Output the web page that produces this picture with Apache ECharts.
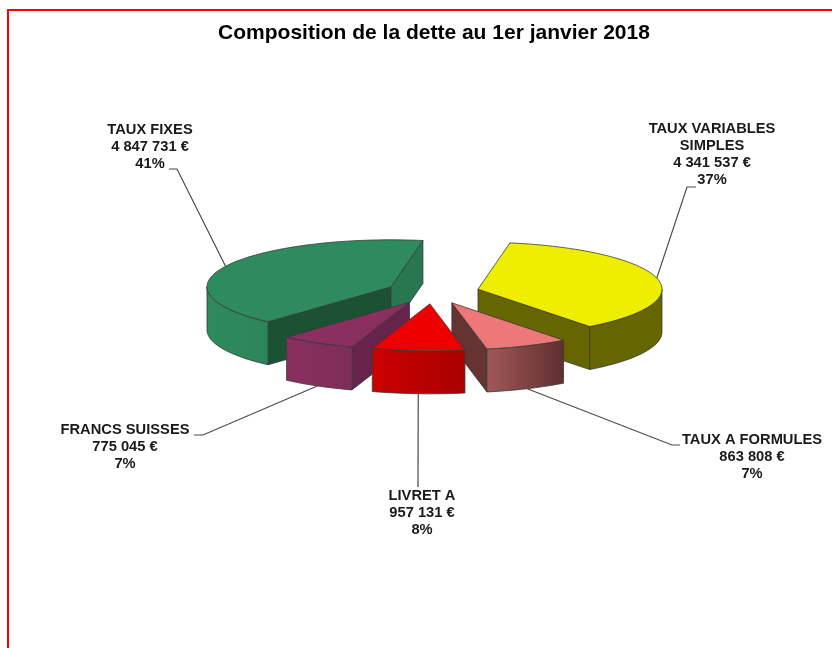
<!DOCTYPE html>
<html lang="fr">
<head>
    <meta charset="UTF-8">
    <title>Composition de la dette</title>
    <style>
        html, body { margin: 0; padding: 0; background: #fff; }
    </style>
</head>
<body>
<div id="main" style="width:832px;height:648px;"></div>

<script src="https://cdn.jsdelivr.net/npm/echarts@6/dist/echarts.min.js"></script>
<script>
    // clockwise from the back edge of the pie
    var categories = ['TAUX VARIABLES\nSIMPLES', 'TAUX A FORMULES', 'LIVRET A', 'FRANCS SUISSES', 'TAUX FIXES'];
    var amounts = [4341537, 863808, 957131, 775045, 4847731];

    // painter's order, back slices first
    var drawOrder = [4, 0, 3, 1, 2];

    // top face, outer wall (left to right), start edge wall, end edge wall
    var topColors = ['#eeee00', '#ee7777', '#ee0000', '#8b2f60', '#2e8b5e'];
    var wallColors = [['#666600', '#666600'], ['#a35757', '#5f2f2f'], ['#cc0000', '#a80000'], ['#8a2f60', '#7e2e58'], ['#2e8b5e', '#2c8559']];
    var startEdgeColors = ['#666600', '#663333', '#cc0000', '#66244d', '#1a5233'];
    var endEdgeColors = ['#666600', '#663333', '#cc0000', '#66244d', '#277850'];

    // leader elbow and end, then label centre x / top y
    var leaderElbows = [[687, 187], [672, 445], [418, 487], [203, 435], [177, 169]];
    var leaderEnds = [[696, 187], [680, 445], [418, 487], [194, 435], [169, 169]];
    var labelAnchors = [[712, 120], [752, 431], [422, 487], [125, 421], [150, 121]];

    var CX = 432.8, CY = 292, RX = 184, RY = 47, DEPTH = 43, EXPLODE = 0.2527;
    var START_ANGLE = 80;
    var EDGE = '#3a3a3a';
    var FONT = '"Liberation Sans", Arial, sans-serif';

    var total = amounts.reduce(function (a, b) { return a + b; }, 0);

    function spaced(n) {
        return String(n).replace(/\B(?=(\d{3})+$)/g, ' ');
    }

    function rim(c, deg) {
        var t = deg * Math.PI / 180;
        return [c[0] + RX * Math.cos(t), c[1] - RY * Math.sin(t)];
    }

    function down(p) {
        return [p[0], p[1] + DEPTH];
    }

    function arcPoints(c, from, to) {
        var pts = [];
        var steps = Math.max(2, Math.ceil(Math.abs(from - to) / 2));
        for (var i = 0; i <= steps; i++) {
            pts.push(rim(c, from + (to - from) * i / steps));
        }
        return pts;
    }

    function face(points, fill) {
        return {
            type: 'polygon',
            shape: { points: points },
            style: { fill: fill, stroke: EDGE, lineWidth: 0.8, lineJoin: 'round' }
        };
    }

    function renderSlice(params, api) {
        var idx = api.value(0);
        var before = 0;
        for (var i = 0; i < idx; i++) before += amounts[i];
        var a0 = START_ANGLE - before / total * 360;
        var a1 = a0 - api.value(1) / total * 360;
        var mid = (a0 + a1) / 2 * Math.PI / 180;

        // apex pushed out along the middle of the slice
        var apex = [
            CX + RX * EXPLODE * Math.cos(mid),
            CY - RY * EXPLODE * Math.sin(mid)
        ];
        var children = [];

        // radial walls that face the viewer
        if (Math.cos(a0 * Math.PI / 180) < 0) {
            var p0 = rim(apex, a0);
            children.push(face([apex, p0, down(p0), down(apex)], startEdgeColors[idx]));
        }
        if (Math.cos(a1 * Math.PI / 180) > 0) {
            var p1 = rim(apex, a1);
            children.push(face([apex, p1, down(p1), down(apex)], endEdgeColors[idx]));
        }

        // outer wall, only the part on the front half of the ellipse
        var w0 = Math.min(a0, 0), w1 = Math.max(a1, -180);
        if (w0 > w1) {
            var upper = arcPoints(apex, w0, w1);
            var lower = upper.map(down).reverse();
            children.push(face(upper.concat(lower), new echarts.graphic.LinearGradient(1, 0, 0, 0, [
                { offset: 0, color: wallColors[idx][1] },
                { offset: 1, color: wallColors[idx][0] }
            ])));
        }

        children.push(face([apex].concat(arcPoints(apex, a0, a1)), topColors[idx]));

        // leader line and label
        var start = rim(apex, (a0 + a1) / 2);
        if (Math.sin(mid) < 0) start = down(start);
        children.push({
            type: 'polyline',
            shape: { points: [start, leaderElbows[idx], leaderEnds[idx]] },
            style: { fill: null, stroke: '#4a4a4a', lineWidth: 1.2 }
        });
        children.push({
            type: 'text',
            style: {
                text: categories[idx] + '\n' + spaced(amounts[idx]) + ' €\n' + Math.round(amounts[idx] / total * 100) + '%',
                x: labelAnchors[idx][0],
                y: labelAnchors[idx][1],
                align: 'center',
                verticalAlign: 'top',
                fontFamily: FONT,
                fontWeight: 'bold',
                fontSize: 14.7,
                lineHeight: 17,
                fill: '#1a1a1a'
            }
        });
        return { type: 'group', children: children };
    }

    var myChart = echarts.init(document.getElementById('main'), null, { renderer: 'canvas' });
    myChart.setOption({
        animation: false,
        backgroundColor: '#fff',
        title: {
            text: 'Composition de la dette au 1er janvier 2018',
            left: 429,
            top: 18,
            textAlign: 'center',
            textStyle: { fontFamily: FONT, fontWeight: 'bold', fontSize: 21, color: '#000' }
        },
        graphic: [{
            type: 'polyline',
            silent: true,
            shape: { points: [[8, 648], [8, 10], [832, 10]] },
            style: { fill: null, stroke: '#ff0000', lineWidth: 2 }
        }],
        series: [{
            type: 'custom',
            coordinateSystem: 'none',
            renderItem: renderSlice,
            data: drawOrder.map(function (i) { return [i, amounts[i]]; })
        }]
    });
</script>
</body>
</html>
